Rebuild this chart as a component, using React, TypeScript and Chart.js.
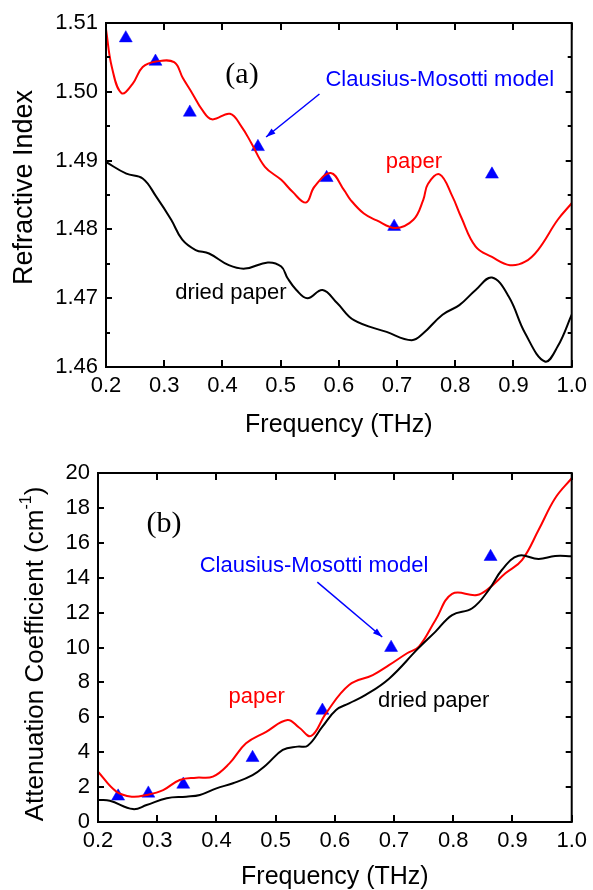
import React, { useEffect, useRef } from "react";
import { Chart, registerables } from "chart.js";
Chart.register(...registerables);

const SANS = '"Liberation Sans", Arial, Helvetica, sans-serif';
const SERIF = '"Liberation Serif", "Times New Roman", serif';

// ---------- (a) Refractive index ----------
const paperIndexFreq = [0.2, 0.21, 0.2267, 0.246, 0.263, 0.286, 0.317, 0.332, 0.348, 0.365, 0.382, 0.413, 0.433, 0.45, 0.473, 0.501, 0.52, 0.5435, 0.558, 0.586, 0.609, 0.62, 0.643, 0.665, 0.697, 0.728, 0.745, 0.753, 0.773, 0.795, 0.81, 0.835, 0.863, 0.894, 0.92, 0.942, 0.976, 1.0];
const paperIndexValues = [1.5091, 1.5036, 1.4998, 1.5012, 1.5036, 1.5044, 1.5043, 1.502, 1.4998, 1.4974, 1.496, 1.4968, 1.4949, 1.4925, 1.4891, 1.4872, 1.4855, 1.4839, 1.4862, 1.4882, 1.4857, 1.4843, 1.4823, 1.4813, 1.4802, 1.4814, 1.4843, 1.4866, 1.488, 1.4848, 1.4818, 1.4775, 1.476, 1.4748, 1.4753, 1.477, 1.4814, 1.4838];
const driedIndexFreq = [0.2, 0.235, 0.263, 0.286, 0.312, 0.331, 0.354, 0.377, 0.411, 0.439, 0.478, 0.501, 0.512, 0.527, 0.546, 0.572, 0.597, 0.626, 0.682, 0.725, 0.745, 0.778, 0.807, 0.835, 0.863, 0.892, 0.92, 0.954, 0.976, 1.0];
const driedIndexValues = [1.4898, 1.4881, 1.4874, 1.4848, 1.4814, 1.4785, 1.477, 1.4765, 1.4748, 1.4743, 1.4752, 1.4746, 1.4729, 1.4712, 1.47, 1.4712, 1.4693, 1.4668, 1.4651, 1.4639, 1.4649, 1.4676, 1.469, 1.4712, 1.473, 1.4702, 1.4649, 1.4608, 1.463, 1.4676];
const modelFreq = [0.234, 0.285, 0.344, 0.461, 0.579, 0.695, 0.863];
const modelIndexValues = [1.5078, 1.5044, 1.497, 1.492, 1.4875, 1.4804, 1.488];

// ---------- (b) Attenuation coefficient ----------
const paperAttFreq = [0.2, 0.231, 0.257, 0.282, 0.31, 0.338, 0.366, 0.394, 0.422, 0.45, 0.484, 0.52, 0.54, 0.56, 0.585, 0.624, 0.664, 0.692, 0.722, 0.742, 0.77, 0.798, 0.84, 0.86, 0.888, 0.916, 0.944, 0.972, 1.0];
const paperAttValues = [2.88, 1.74, 1.45, 1.55, 1.83, 2.41, 2.54, 2.6, 3.36, 4.51, 5.17, 5.85, 5.4, 4.93, 6.23, 7.85, 8.42, 9.0, 9.67, 10.05, 11.58, 13.07, 13.01, 13.39, 14.25, 15.01, 16.73, 18.55, 19.7];
const driedAttFreq = [0.2, 0.22, 0.259, 0.282, 0.316, 0.349, 0.372, 0.4, 0.428, 0.461, 0.484, 0.512, 0.537, 0.554, 0.579, 0.602, 0.624, 0.652, 0.692, 0.74, 0.77, 0.798, 0.832, 0.86, 0.882, 0.91, 0.944, 0.972, 1.0];
const driedAttValues = [1.26, 1.22, 0.74, 0.97, 1.36, 1.45, 1.55, 1.93, 2.22, 2.69, 3.27, 4.13, 4.32, 4.37, 5.46, 6.42, 6.8, 7.28, 8.23, 9.92, 10.91, 11.86, 12.25, 13.3, 14.44, 15.26, 15.07, 15.24, 15.23];
const modelAttValues = [1.47, 1.64, 2.15, 3.68, 6.39, 9.99, 15.2];

const pts = (xs: number[], ys: number[]) => xs.map((x, i) => ({ x, y: ys[i] }));

function lineSet(xs: number[], ys: number[], color: string) {
  return {
    data: pts(xs, ys),
    showLine: true,
    borderColor: color,
    backgroundColor: color,
    borderWidth: 2,
    pointRadius: 0,
    tension: 0.4,
  };
}
function modelSet(ys: number[]) {
  return {
    data: pts(modelFreq, ys),
    showLine: false,
    pointStyle: "triangle",
    pointRadius: 7.5,
    borderWidth: 0.5,
    backgroundColor: "#0000ff",
    borderColor: "#0000ff",
    clip: false,
  };
}

function drawArrow(ctx: any, x1: number, y1: number, x2: number, y2: number, color: string) {
  ctx.save();
  ctx.strokeStyle = color;
  ctx.fillStyle = color;
  ctx.lineWidth = 1.5;
  ctx.beginPath();
  ctx.moveTo(x1, y1);
  ctx.lineTo(x2, y2);
  ctx.stroke();
  const ang = Math.atan2(y2 - y1, x2 - x1);
  const L = 10, W = 0.32;
  ctx.beginPath();
  ctx.moveTo(x2, y2);
  ctx.lineTo(x2 - L * Math.cos(ang - W), y2 - L * Math.sin(ang - W));
  ctx.lineTo(x2 - L * Math.cos(ang + W), y2 - L * Math.sin(ang + W));
  ctx.closePath();
  ctx.fill();
  ctx.restore();
}

function makeChart(canvas: HTMLCanvasElement, spec: any) {
  const H = canvas.height;
  const W = canvas.width;
  const plugin = {
    id: "frameDeco",
    afterDraw(chart: any) {
      const { ctx, chartArea: a, scales } = chart;
      const xs = scales.x, ys = scales.y;
      ctx.save();
      ctx.strokeStyle = "#000";
      ctx.lineWidth = 2;
      ctx.strokeRect(a.left, a.top, a.right - a.left, a.bottom - a.top);
      ctx.beginPath();
      xs.ticks.forEach((t: any) => {
        const px = Math.round(xs.getPixelForValue(t.value));
        ctx.moveTo(px, a.bottom); ctx.lineTo(px, a.bottom - 7);
        ctx.moveTo(px, a.top); ctx.lineTo(px, a.top + 7);
      });
      ys.ticks.forEach((t: any) => {
        const py = Math.round(ys.getPixelForValue(t.value));
        ctx.moveTo(a.left, py); ctx.lineTo(a.left + 6, py);
        ctx.moveTo(a.right, py); ctx.lineTo(a.right - 6, py);
      });
      if (spec.minorY) {
        for (let i = 0; i < ys.ticks.length - 1; i++) {
          const v = (ys.ticks[i].value + ys.ticks[i + 1].value) / 2;
          const py = Math.round(ys.getPixelForValue(v));
          ctx.moveTo(a.left, py); ctx.lineTo(a.left + 4, py);
          ctx.moveTo(a.right, py); ctx.lineTo(a.right - 4, py);
        }
      }
      ctx.stroke();
      ctx.restore();
      ctx.save();
      spec.decorate(ctx, xs, ys, a);
      ctx.restore();
    },
  };
  return new Chart(canvas, {
    type: "scatter",
    data: { datasets: spec.datasets },
    options: {
      responsive: false,
      animation: false,
      devicePixelRatio: 1,
      events: [],
      layout: { padding: { left: 0, right: W - spec.area.right, top: spec.area.top, bottom: 0 } },
      plugins: { legend: { display: false }, tooltip: { enabled: false } },
      scales: {
        x: {
          type: "linear",
          min: 0.2,
          max: 1.0,
          afterFit: (s: any) => { s.height = H - spec.area.bottom; },
          grid: { display: false, drawTicks: false },
          border: { display: false },
          ticks: {
            stepSize: 0.1,
            autoSkip: false,
            maxRotation: 0,
            padding: 6,
            color: "#000",
            font: { family: SANS, size: 22 },
            callback: (v: any) => Number(v).toFixed(1),
          },
        },
        y: {
          type: "linear",
          min: spec.yMin,
          max: spec.yMax,
          afterFit: (s: any) => { s.width = spec.area.left; },
          grid: { display: false, drawTicks: false },
          border: { display: false },
          ticks: {
            stepSize: spec.yStep,
            autoSkip: false,
            padding: 8,
            color: "#000",
            font: { family: SANS, size: 22 },
            callback: (v: any) => Number(v).toFixed(spec.yDecimals),
          },
        },
      },
    },
    plugins: [plugin],
  } as any);
}

export default function App() {
  const topRef = useRef<HTMLCanvasElement>(null);
  const botRef = useRef<HTMLCanvasElement>(null);

  useEffect(() => {
    const c1 = makeChart(topRef.current!, {
      area: { left: 106, right: 577, top: 23, bottom: 367 },
      yMin: 1.46, yMax: 1.51, yStep: 0.01, yDecimals: 2, minorY: true,
      datasets: [
        lineSet(driedIndexFreq, driedIndexValues, "#000000"),
        lineSet(paperIndexFreq, paperIndexValues, "#ff0000"),
        modelSet(modelIndexValues),
      ],
      decorate: (ctx: any, xs: any, ys: any, a: any) => {
        const X = (v: number) => xs.getPixelForValue(v);
        const Y = (v: number) => ys.getPixelForValue(v);
        ctx.textBaseline = "alphabetic";
        ctx.fillStyle = "#000";
        ctx.textAlign = "center";
        ctx.font = `25px ${SANS}`;
        ctx.fillText("Frequency (THz)", (a.left + a.right) / 2, 432);
        ctx.save();
        ctx.translate(32, 187.5);
        ctx.rotate(-Math.PI / 2);
        ctx.font = `27px ${SANS}`;
        ctx.fillText("Refractive Index", 0, 0);
        ctx.restore();
        ctx.textAlign = "left";
        ctx.font = `30px ${SERIF}`;
        ctx.fillText("(a)", X(0.405), Y(1.50124));
        ctx.font = `22px ${SANS}`;
        ctx.fillStyle = "#0000ff";
        ctx.fillText("Clausius-Mosotti model", X(0.5769), Y(1.50084));
        ctx.fillStyle = "#ff0000";
        ctx.fillText("paper", X(0.6805), Y(1.48888));
        ctx.fillStyle = "#000";
        ctx.fillText("dried paper", X(0.3188), Y(1.46988));
        drawArrow(ctx, X(0.5667), Y(1.49968), X(0.475), Y(1.49343), "#0000ff");
      },
    });
    const c2 = makeChart(botRef.current!, {
      area: { left: 98, right: 573, top: 28, bottom: 377 },
      yMin: 0, yMax: 20, yStep: 2, yDecimals: 0, minorY: false,
      datasets: [
        lineSet(driedAttFreq, driedAttValues, "#000000"),
        lineSet(paperAttFreq, paperAttValues, "#ff0000"),
        modelSet(modelAttValues),
      ],
      decorate: (ctx: any, xs: any, ys: any, a: any) => {
        const X = (v: number) => xs.getPixelForValue(v);
        const Y = (v: number) => ys.getPixelForValue(v);
        ctx.textBaseline = "alphabetic";
        ctx.fillStyle = "#000";
        ctx.textAlign = "center";
        ctx.font = `25px ${SANS}`;
        ctx.fillText("Frequency (THz)", (a.left + a.right) / 2, 439);
        ctx.save();
        ctx.translate(43, 209);
        ctx.rotate(-Math.PI / 2);
        ctx.textAlign = "left";
        const main = "Attenuation Coefficient (cm";
        const sup = "-1";
        const end = ")";
        ctx.font = `26px ${SANS}`;
        const w1 = ctx.measureText(main).width;
        const w3 = ctx.measureText(end).width;
        ctx.font = `16px ${SANS}`;
        const w2 = ctx.measureText(sup).width;
        let x = -(w1 + w2 + w3) / 2;
        ctx.font = `26px ${SANS}`;
        ctx.fillText(main, x, 0);
        x += w1;
        ctx.font = `16px ${SANS}`;
        ctx.fillText(sup, x, -12);
        x += w2;
        ctx.font = `26px ${SANS}`;
        ctx.fillText(end, x, 0);
        ctx.restore();
        ctx.textAlign = "left";
        ctx.font = `30px ${SERIF}`;
        ctx.fillText("(b)", X(0.282), Y(16.64));
        ctx.font = `22px ${SANS}`;
        ctx.fillStyle = "#0000ff";
        ctx.fillText("Clausius-Mosotti model", X(0.3717), Y(14.34));
        ctx.fillStyle = "#ff0000";
        ctx.fillText("paper", X(0.4205), Y(6.8));
        ctx.fillStyle = "#000";
        ctx.fillText("dried paper", X(0.673), Y(6.61));
        drawArrow(ctx, X(0.5704), Y(13.75), X(0.68), Y(10.6), "#0000ff");
      },
    });
    return () => {
      c1.destroy();
      c2.destroy();
    };
  }, []);

  return (
    <div style={{ position: "absolute", left: 0, top: 0, width: 593, height: 890, background: "#fff" }}>
      <canvas ref={topRef} width={593} height={445} style={{ position: "absolute", left: 0, top: 0, display: "block" }} />
      <canvas ref={botRef} width={593} height={445} style={{ position: "absolute", left: 0, top: 445, display: "block" }} />
    </div>
  );
}
